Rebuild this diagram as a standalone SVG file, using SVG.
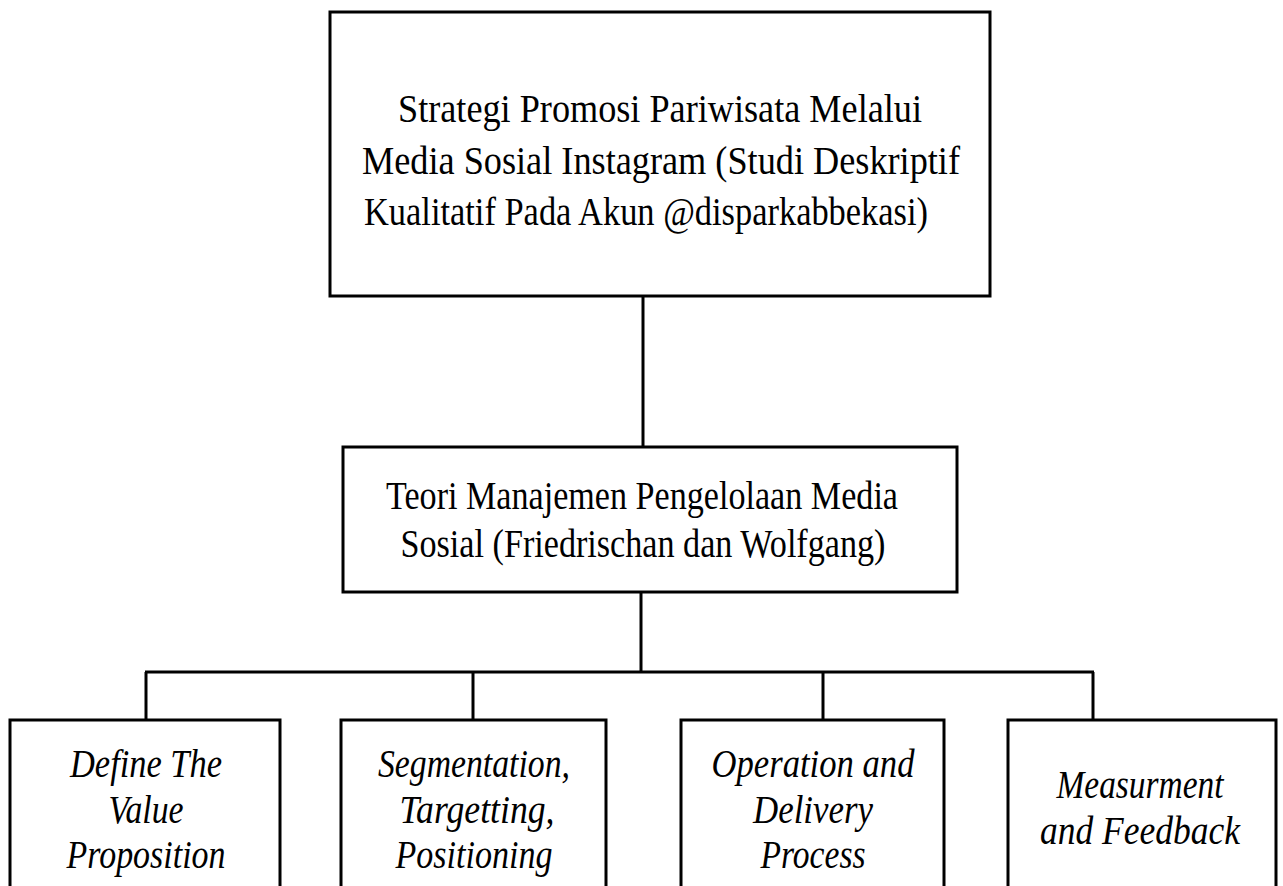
<svg xmlns="http://www.w3.org/2000/svg" width="1283" height="886" viewBox="0 0 1283 886">
<style>
.box{fill:#fff;stroke:#000;stroke-width:3}
.con{fill:none;stroke:#000;stroke-width:3}
.t{font-family:"Liberation Serif","Times New Roman",serif;font-size:40px;fill:#000;text-anchor:middle}
.i{font-style:italic;font-size:39px}
</style>
<rect width="1283" height="886" fill="#fff"/>
<g id="connectors">
<line class="con" x1="643" y1="296" x2="643" y2="447"/>
<line class="con" x1="641" y1="592" x2="641" y2="672"/>
<line class="con" x1="145" y1="672" x2="1094" y2="672"/>
<line class="con" x1="146" y1="672" x2="146" y2="720"/>
<line class="con" x1="473" y1="672" x2="473" y2="720"/>
<line class="con" x1="823" y1="672" x2="823" y2="720"/>
<line class="con" x1="1093" y1="672" x2="1093" y2="720"/>
</g>
<g id="node-top">
<rect class="box" x="330" y="12" width="660" height="284"/>
<text class="t" x="660" y="122" textLength="524" lengthAdjust="spacingAndGlyphs">Strategi Promosi Pariwisata Melalui</text>
<text class="t" x="661" y="174" textLength="598" lengthAdjust="spacingAndGlyphs">Media Sosial Instagram (Studi Deskriptif</text>
<text class="t" x="646" y="225" textLength="564" lengthAdjust="spacingAndGlyphs">Kualitatif Pada Akun @disparkabbekasi)</text>
</g>
<g id="node-theory">
<rect class="box" x="343" y="447" width="614" height="145"/>
<text class="t" x="642" y="509" textLength="512" lengthAdjust="spacingAndGlyphs">Teori Manajemen Pengelolaan Media</text>
<text class="t" x="643" y="557" textLength="485" lengthAdjust="spacingAndGlyphs">Sosial (Friedrischan dan Wolfgang)</text>
</g>
<g id="node-value">
<rect class="box" x="10" y="720" width="270" height="180"/>
<text class="t i" x="146" y="777" textLength="152" lengthAdjust="spacingAndGlyphs">Define The</text>
<text class="t i" x="146" y="823" textLength="75" lengthAdjust="spacingAndGlyphs">Value</text>
<text class="t i" x="146" y="868" textLength="159" lengthAdjust="spacingAndGlyphs">Proposition</text>
</g>
<g id="node-stp">
<rect class="box" x="341" y="720" width="265" height="180"/>
<text class="t i" x="474" y="777" textLength="192" lengthAdjust="spacingAndGlyphs">Segmentation,</text>
<text class="t i" x="477" y="823" textLength="155" lengthAdjust="spacingAndGlyphs">Targetting,</text>
<text class="t i" x="474" y="868" textLength="157" lengthAdjust="spacingAndGlyphs">Positioning</text>
</g>
<g id="node-operation">
<rect class="box" x="681" y="720" width="263" height="180"/>
<text class="t i" x="813" y="777" textLength="203" lengthAdjust="spacingAndGlyphs">Operation and</text>
<text class="t i" x="813" y="823" textLength="120" lengthAdjust="spacingAndGlyphs">Delivery</text>
<text class="t i" x="813" y="868" textLength="105" lengthAdjust="spacingAndGlyphs">Process</text>
</g>
<g id="node-measurement">
<rect class="box" x="1008" y="720" width="268" height="180"/>
<text class="t i" x="1140" y="798" textLength="167" lengthAdjust="spacingAndGlyphs">Measurment</text>
<text class="t i" x="1140" y="844" textLength="200" lengthAdjust="spacingAndGlyphs">and Feedback</text>
</g>
</svg>
